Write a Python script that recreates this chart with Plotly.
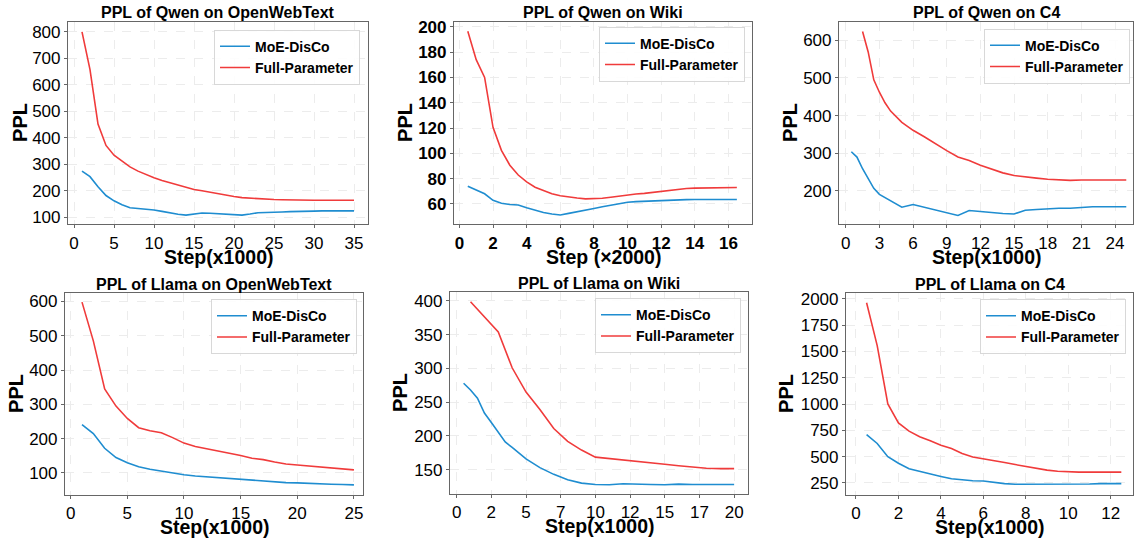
import plotly.graph_objects as go

# ---------------- data ----------------
series_names = ["MoE-DisCo", "Full-Parameter"]
titles = ["PPL of Qwen on OpenWebText", "PPL of Qwen on Wiki", "PPL of Qwen on C4",
          "PPL of Llama on OpenWebText", "PPL of Llama on Wiki", "PPL of Llama on C4"]
xlabels = ["Step(x1000)", "Step (×2000)", "Step(x1000)",
           "Step(x1000)", "Step(x1000)", "Step(x1000)"]
ylabel = "PPL"

# Qwen / OpenWebText
q_owt_x = list(range(1, 36))
q_owt_moe = [274, 253, 215, 182, 162, 147, 136, 133, 132, 127, 122, 116, 111, 108, 112, 116, 115, 113,
             112, 110, 108, 112, 117, 118, 120, 120, 121, 121, 122, 123, 124, 124, 124, 124, 124]
q_owt_full = [800, 657, 452, 371, 334, 311, 290, 274, 261, 249, 239, 230, 220, 212, 205, 200, 194, 188,
              183, 178, 174, 172, 169, 168, 167, 166, 165, 165, 164, 164, 164, 164, 164, 164, 164]

# Qwen / Wiki
q_wiki_x = [0.5, 1, 1.5, 2, 2.5, 3, 3.5, 4, 4.5, 5, 5.5, 6, 6.5, 7, 7.5, 8, 8.5, 9, 9.5, 10, 10.5,
            11, 11.5, 12, 12.5, 13, 13.5, 14, 14.5, 15, 15.5, 16, 16.5]
q_wiki_moe = [74, 70.8, 68, 62.8, 60.5, 59.5, 59.1, 57, 55, 53.2, 52, 51.2, 52.5, 54, 55.1, 56.4, 57.7,
              59, 60.3, 61.3, 61.8, 62.1, 62.6, 62.9, 63.1, 63.3, 63.4, 63.5, 63.5, 63.5, 63.5, 63.5, 63.5]
q_wiki_full = [196.5, 174, 160, 120.5, 102.3, 90.6, 82.8, 77.4, 73.2, 70.3, 68, 66.5, 65.4, 64.6, 64, 64,
               64.4, 65.2, 66.2, 67.3, 67.8, 68.3, 69.1, 69.9, 70.7, 71.6, 72.2, 72.5, 72.7, 72.8, 72.9, 73, 73]

# Qwen / C4
q_c4_moe_x = [0.5, 1, 1.5, 2, 2.5, 3, 3.5, 4, 5, 6, 7, 8, 9, 10, 11, 12, 13, 14, 15, 16, 17, 18, 19,
              20, 21, 22, 23, 24, 25]
q_c4_moe = [304, 290, 259, 233, 207, 191, 183, 174, 157, 164, 157, 148, 143, 135, 148, 145, 141.5, 140,
            139, 149, 151, 153, 154, 154, 157, 158, 158, 158, 158]
q_c4_full_x = [1.5, 2, 2.5, 3, 3.5, 4, 5, 6, 7, 8, 9, 10, 11, 12, 13, 14, 15, 16, 17, 18, 19, 20, 21,
               22, 23, 24, 25]
q_c4_full = [623, 569, 495, 462, 434, 412, 382, 361, 344, 325, 307, 290, 281, 268, 257, 248, 241, 237,
             234, 231, 229, 228, 229, 229, 229, 229, 229]

# Llama / OpenWebText
l_owt_x = list(range(1, 26))
l_owt_moe = [241, 215, 172, 145, 130, 118, 111, 105, 100, 95, 91, 88.5, 85.6, 82.7, 80.8, 78, 76, 74,
             72, 71, 69, 68, 67, 66.3, 65.4]
l_owt_full = [598, 485, 345, 295, 259, 232, 223, 217, 203, 187, 177, 171, 165, 158, 151, 143, 139, 132,
              126, 123, 120, 116, 115, 112, 109]

# Llama / Wiki
l_wiki_moe_x = [0.5, 1, 1.5, 2, 2.5, 3, 3.5, 4, 5, 6, 7, 8, 9, 10, 11, 12, 13, 14, 15, 16, 17, 18, 19, 20]
l_wiki_moe = [278, 268, 256, 234, 220, 205, 191, 183, 166, 153, 143, 135, 130, 128, 127.6, 129, 129, 128,
              127.6, 128.6, 128, 128, 128, 128]
l_wiki_full_x = list(range(1, 21))
l_wiki_full = [399, 376, 354, 301, 265, 239, 211, 192, 179, 168.5, 166.5, 165, 163, 160.7, 158, 155.8,
               153.4, 152, 151.5, 151.5]
l_wiki_tickvals = [0, 2.5, 5, 7.5, 10, 12.5, 15, 17.5, 20]
l_wiki_ticktext = ["0", "2", "5", "7", "10", "12", "15", "17", "20"]

# Llama / C4
l_c4_x = [0.5, 1, 1.5, 2, 2.5, 3, 3.5, 4, 4.5, 5, 5.5, 6, 6.5, 7, 7.5, 8, 8.5, 9, 9.5, 10, 10.5, 11,
          11.5, 12, 12.5]
l_c4_moe = [709, 625, 500, 438, 385, 359, 340, 312, 290, 280, 272, 269, 256, 244, 238, 238, 241, 241,
            234, 234, 238, 241, 244, 244, 244]
l_c4_full = [1962, 1555, 1000, 820, 742, 690, 652, 609, 578, 531, 497, 481, 462, 444, 425, 406, 387, 372,
             362, 356, 353, 353, 353, 353, 353]

# ---------------- style / layout ----------------
W, H = 1134, 542
BLUE = "#1f8dd0"
RED = "#f03b3b"
FONT = "Liberation Sans, Arial, sans-serif"

panels = [
    dict(moe=(q_owt_x, q_owt_moe), full=(q_owt_x, q_owt_full), box=(68, 368, 18, 223),
         xr=[-0.75, 36.75], yr=[74, 838], xt=dict(tick0=0, dtick=5), yt=dict(tick0=0, dtick=100),
         leg=(360, 26), ylx=20, bold=False),
    dict(moe=(q_wiki_x, q_wiki_moe), full=(q_wiki_x, q_wiki_full), box=(454, 752, 18, 223),
         xr=[-0.32, 17.4], yr=[44, 204], xt=dict(tick0=0, dtick=2), yt=dict(tick0=0, dtick=20),
         leg=(745, 23), ylx=405, bold=True),
    dict(moe=(q_c4_moe_x, q_c4_moe), full=(q_c4_full_x, q_c4_full), box=(839, 1133, 18, 223),
         xr=[-0.6, 25.6], yr=[112, 649], xt=dict(tick0=0, dtick=3), yt=dict(tick0=0, dtick=100),
         leg=(1130, 25), ylx=790, bold=False),
    dict(moe=(l_owt_x, l_owt_moe), full=(l_owt_x, l_owt_full), box=(65, 363, 293, 497),
         xr=[-0.5, 25.8], yr=[37, 624], xt=dict(tick0=0, dtick=5), yt=dict(tick0=0, dtick=100),
         leg=(357, 299), ylx=16, bold=False),
    dict(moe=(l_wiki_moe_x, l_wiki_moe), full=(l_wiki_full_x, l_wiki_full), box=(450, 748, 292, 496),
         xr=[-0.48, 21.0], yr=[114.5, 413], xt=dict(tickmode="array", tickvals=l_wiki_tickvals,
                                                     ticktext=l_wiki_ticktext),
         yt=dict(tick0=0, dtick=50), leg=(741, 298), ylx=400, bold=False),
    dict(moe=(l_c4_x, l_c4_moe), full=(l_c4_x, l_c4_full), box=(846, 1133, 293, 497),
         xr=[-0.47, 13.05], yr=[140, 2052], xt=dict(tick0=0, dtick=2), yt=dict(tick0=0, dtick=250),
         leg=(1126, 299), ylx=786, bold=False),
]

fig = go.Figure()
layout = dict(width=W, height=H, margin=dict(l=0, r=0, t=0, b=0),
              paper_bgcolor="white", plot_bgcolor="white",
              font=dict(family=FONT, color="black"), annotations=[])

for i, p in enumerate(panels):
    n = i + 1
    sfx = "" if n == 1 else str(n)
    legname = "legend" + sfx
    for (xs, ys), name, col in [(p["moe"], series_names[0], BLUE), (p["full"], series_names[1], RED)]:
        fig.add_trace(go.Scatter(x=xs, y=ys, mode="lines", name=name,
                                 line=dict(color=col, width=1.6),
                                 xaxis="x" + sfx, yaxis="y" + sfx, legend=legname))
    x0, x1, yt, yb = p["box"]
    tickfont = dict(family=FONT, size=17, color="black", weight="bold" if p["bold"] else "normal")
    common = dict(showline=True, mirror=True, linecolor="#666666", linewidth=1.2,
                  ticks="outside", ticklen=3, tickwidth=1, tickcolor="#666666",
                  showgrid=True, gridcolor="#ececec", gridwidth=0.8, griddash="dash",
                  zeroline=False, tickfont=tickfont, fixedrange=True)
    layout["xaxis" + sfx] = dict(domain=[x0 / W, x1 / W], anchor="y" + sfx, range=p["xr"],
                                 **p["xt"], **common)
    layout["yaxis" + sfx] = dict(domain=[1 - yb / H, 1 - yt / H], anchor="x" + sfx, range=p["yr"],
                                 **p["yt"], **common)
    lx, ly = p["leg"]
    layout[legname] = dict(x=lx / W, y=1 - ly / H, xanchor="right", yanchor="top",
                           xref="paper", yref="paper",
                           bgcolor="rgba(255,255,255,0.9)", bordercolor="#d8d8d8", borderwidth=1,
                           font=dict(family=FONT, size=14, color="black", weight="bold"),
                           itemwidth=30, tracegroupgap=0)
    cx = (x0 + x1) / 2
    layout["annotations"] += [
        dict(text="<b>%s</b>" % titles[i], xref="paper", yref="paper", x=cx / W, y=1 - (yt - 9) / H,
             xanchor="center", yanchor="middle", showarrow=False,
             font=dict(family=FONT, size=16, color="black")),
        dict(text="<b>%s</b>" % xlabels[i], xref="paper", yref="paper", x=cx / W,
             y=1 - (yb + 33) / H, xanchor="center", yanchor="middle", showarrow=False,
             font=dict(family=FONT, size=19.5, color="black")),
        dict(text="<b>%s</b>" % ylabel, xref="paper", yref="paper", x=p["ylx"] / W,
             y=1 - ((yt + yb) / 2) / H, xanchor="center", yanchor="middle", showarrow=False,
             textangle=-90, font=dict(family=FONT, size=20, color="black")),
    ]

fig.update_layout(**layout)
fig.write_html("out.html", config=dict(displayModeBar=False),
               post_script="document.body.style.margin='0';document.body.style.overflow='hidden';")
